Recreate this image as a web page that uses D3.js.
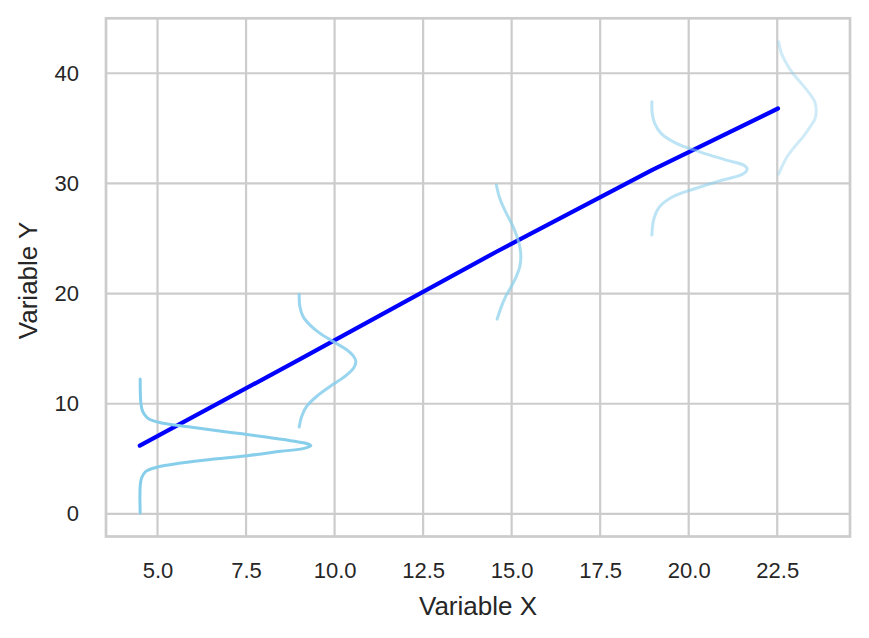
<!DOCTYPE html>
<html>
<head>
<meta charset="utf-8">
<script src="https://cdn.jsdelivr.net/npm/d3@7"></script>
<style>
  body { margin: 0; background: #fff; }
  svg { display: block; font-family: "Liberation Sans", Arial, sans-serif; }
</style>
</head>
<body>
<div id="chart"></div>
<script>
// ------ Data ----------------------------- //

// x position of each group and the mean joined by the blue line
const groupX = [4.5, 9.0, 14.57, 18.96, 22.52];
const groupMean = [6.2, 14.0, 23.8, 31.2, 36.8];

// x position where each density curve starts
const curveX = [4.51, 9.0, 14.57, 18.96, 22.54];

// each density curve as [y, width in x units]
const density1 = [[12.24,0],[10.06,0.02],[9.30,0.07],[8.70,0.21],[8.34,0.49],[8.07,0.96],
  [7.80,1.62],[7.40,2.56],[7.01,3.50],[6.65,4.25],[6.37,4.72],[6.19,4.82],[5.95,4.63],
  [5.68,3.97],[5.29,3.03],[4.99,2.09],[4.62,1.15],[4.26,0.49],[3.86,0.16],[3.26,0.04],
  [2.50,0],[0.09,0]];
const density2 = [[19.95,0],[18.82,0.02],[17.92,0.11],[17.16,0.30],[16.41,0.58],[15.65,0.96],
  [14.90,1.34],[14.29,1.54],[13.84,1.60],[13.24,1.54],[12.48,1.29],[11.57,0.87],[10.66,0.49],
  [9.76,0.21],[8.85,0.07],[7.89,0]];
const density3 = [[29.86,0],[28.79,0.08],[27.89,0.19],[26.98,0.33],[26.07,0.47],[25.17,0.58],
  [24.26,0.66],[23.36,0.69],[22.45,0.66],[21.54,0.56],[20.64,0.42],[19.73,0.26],[18.82,0.14],
  [17.68,0.02]];
const density4 = [[37.41,0],[36.35,0.01],[35.45,0.08],[34.54,0.26],[33.64,0.69],[32.87,1.35],
  [32.12,2.10],[31.61,2.62],[31.31,2.69],[30.85,2.57],[30.31,2.00],[29.56,1.25],[28.79,0.59],
  [27.89,0.22],[26.84,0.06],[25.32,0]];
const density5 = [[42.85,0],[41.79,0.08],[40.89,0.22],[39.98,0.40],[39.08,0.64],[38.17,0.87],
  [37.41,1.02],[36.65,1.06],[35.90,1.03],[35.14,0.89],[34.23,0.69],[33.33,0.45],[32.42,0.24],
  [31.51,0.09],[30.85,0]];
const densities = [density1, density2, density3, density4, density5];
const curveOpacity = [1, 0.85, 0.7, 0.55, 0.4];

const xTicks = [5.0, 7.5, 10.0, 12.5, 15.0, 17.5, 20.0, 22.5];
const yTicks = [0, 10, 20, 30, 40];

// ------ Create the drawing area ------- //

const width = 869;
const height = 638;
const margin = {top: 18.3, right: 19, bottom: 101.5, left: 106};
const innerWidth = width - margin.left - margin.right;
const innerHeight = height - margin.top - margin.bottom;

const svg = d3.select("#chart")
  .append("svg")
    .attr("width", width)
    .attr("height", height);

svg.append("rect")
  .attr("width", width)
  .attr("height", height)
  .attr("fill", "#fff");

const innerChart = svg
  .append("g")
    .attr("transform", `translate(${margin.left}, ${margin.top})`);

// Domains like matplotlib: data extent plus 5% on each side
const allX = groupX.concat(densities.flatMap((d, i) => d.map(p => curveX[i] + p[1])));
const allY = groupMean.concat(densities.flatMap(d => d.map(p => p[0])));
const pad = ([a, b]) => [a - (b - a) * 0.05, b + (b - a) * 0.05];

const xScale = d3.scaleLinear()
  .domain(pad(d3.extent(allX)))
  .range([0, innerWidth]);
const yScale = d3.scaleLinear()
  .domain(pad(d3.extent(allY)))
  .range([innerHeight, 0]);

// ------ Grid ------- //

const gridColor = "#cccccc";

innerChart.append("g")
  .selectAll("line")
  .data(xTicks)
  .join("line")
    .attr("x1", d => xScale(d))
    .attr("x2", d => xScale(d))
    .attr("y1", 0)
    .attr("y2", innerHeight)
    .attr("stroke", gridColor)
    .attr("stroke-width", 2.2);

innerChart.append("g")
  .selectAll("line")
  .data(yTicks)
  .join("line")
    .attr("x1", 0)
    .attr("x2", innerWidth)
    .attr("y1", d => yScale(d))
    .attr("y2", d => yScale(d))
    .attr("stroke", gridColor)
    .attr("stroke-width", 2.2);

// ------ Axes (labels only, no tick marks) ------- //

const xAxis = d3.axisBottom(xScale)
  .tickValues(xTicks)
  .tickFormat(d3.format(".1f"))
  .tickSize(0)
  .tickPadding(26);
innerChart.append("g")
    .attr("transform", `translate(0, ${innerHeight})`)
    .call(xAxis)
    .call(g => g.select(".domain").remove())
    .selectAll("text")
      .attr("font-size", 22)
      .attr("font-family", "Liberation Sans, Arial, sans-serif")
      .attr("fill", "#262626");

const yAxis = d3.axisLeft(yScale)
  .tickValues(yTicks)
  .tickFormat(d3.format("d"))
  .tickSize(0)
  .tickPadding(27);
innerChart.append("g")
    .call(yAxis)
    .call(g => g.select(".domain").remove())
    .selectAll("text")
      .attr("font-size", 22)
      .attr("font-family", "Liberation Sans, Arial, sans-serif")
      .attr("fill", "#262626");

// ------ Mean line ------- //

const meanLine = d3.line()
  .x((d, i) => xScale(groupX[i]))
  .y(d => yScale(d));

innerChart.append("path")
  .attr("d", meanLine(groupMean))
  .attr("fill", "none")
  .attr("stroke", "#0000ff")
  .attr("stroke-width", 4.2)
  .attr("stroke-linecap", "round")
  .attr("stroke-linejoin", "round");

// ------ Density curves ------- //

densities.forEach((density, i) => {
  const curve = d3.line()
    .x(p => xScale(curveX[i] + p[1]))
    .y(p => yScale(p[0]))
    .curve(d3.curveCatmullRom.alpha(0.5));

  innerChart.append("path")
    .attr("d", curve(density))
    .attr("fill", "none")
    .attr("stroke", "#87ceeb")
    .attr("stroke-opacity", curveOpacity[i])
    .attr("stroke-width", 3)
    .attr("stroke-linecap", "round")
    .attr("stroke-linejoin", "round");
});

// ------ Frame ------- //

innerChart.append("rect")
  .attr("width", innerWidth)
  .attr("height", innerHeight)
  .attr("fill", "none")
  .attr("stroke", gridColor)
  .attr("stroke-width", 2.7);

// ------ Axis titles ------- //

svg.append("text")
  .text("Variable X")
  .attr("x", margin.left + innerWidth / 2)
  .attr("y", 615)
  .attr("text-anchor", "middle")
  .attr("font-size", 26)
  .attr("fill", "#262626");

svg.append("text")
  .text("Variable Y")
  .attr("transform", `translate(37, ${margin.top + innerHeight / 2 + 3}) rotate(-90)`)
  .attr("text-anchor", "middle")
  .attr("font-size", 26)
  .attr("fill", "#262626");
</script>
</body>
</html>
